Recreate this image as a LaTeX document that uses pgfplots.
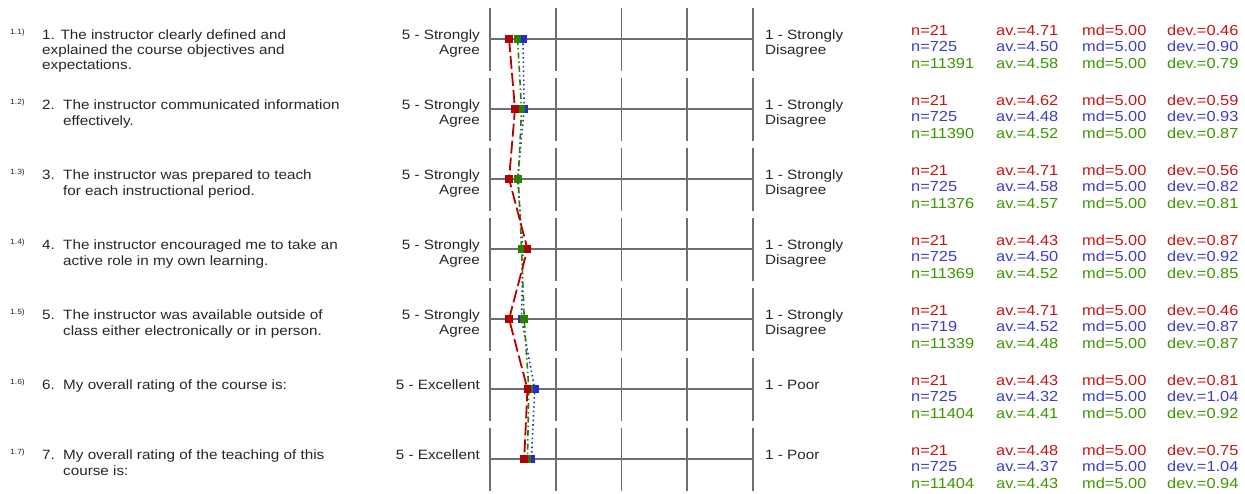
\documentclass[border=0pt]{standalone}
\usepackage{pgfplots}
\pgfplotsset{compat=1.18}
\usepackage{fontspec}
\setmainfont[FakeStretch=1.13]{Liberation Sans}
\definecolor{tred}{RGB}{200,20,20}
\definecolor{tblue}{RGB}{60,60,200}
\definecolor{tgreen}{RGB}{60,150,0}
\definecolor{lred}{RGB}{180,0,0}
\definecolor{lblue}{RGB}{40,40,210}
\definecolor{lgreen}{RGB}{40,130,0}
\definecolor{gridc}{RGB}{110,110,110}
\newcommand{\qf}{\fontsize{13.5bp}{15bp}\selectfont}
\newcommand{\stf}{\fontsize{14.5bp}{16bp}\selectfont}
\newcommand{\tf}{\fontsize{7.5bp}{8bp}\selectfont}
\pgfplotstableread{
row av
1 4.71
2 4.62
3 4.71
4 4.43
5 4.71
6 4.43
7 4.48
}\redtab
\pgfplotstableread{
row av
1 4.50
2 4.48
3 4.58
4 4.50
5 4.52
6 4.32
7 4.37
}\bluetab
\pgfplotstableread{
row av
1 4.58
2 4.52
3 4.57
4 4.52
5 4.48
6 4.41
7 4.43
}\greentab
\begin{document}
\begin{tikzpicture}
\useasboundingbox (0bp,0bp) rectangle (1245bp,-494bp);
\begin{axis}[
  scale only axis, width=263bp, height=420bp,
  at={(490bp,-39bp)}, anchor=north west,
  xmin=1, xmax=5, x dir=reverse,
  ymin=1, ymax=7, y dir=reverse,
  hide axis, clip=false,
]
\foreach \r in {1,...,7}{
  \edef\tmp{\noexpand\draw[gridc, line width=1.5bp] (axis cs:5,\r) -- (axis cs:1,\r);}\tmp
  \foreach \x in {1,...,5}{
    \edef\tmp{\noexpand\draw[gridc, line width=1.6bp] (axis cs:\x,\r-0.45) -- (axis cs:\x,\r+0.45);}\tmp
  }
}
\addplot[lblue, line width=1.6bp, dash pattern=on 1.5bp off 3bp, mark=square*, mark size=3bp, mark options={solid}] table[x=av,y=row] {\bluetab};
\addplot[lgreen, line width=1.6bp, dash pattern=on 6bp off 3bp on 1.5bp off 3bp, mark=square*, mark size=3bp, mark options={solid}] table[x=av,y=row] {\greentab};
\addplot[lred, line width=1.8bp, dash pattern=on 13bp off 4bp, mark=square*, mark size=3bp, mark options={solid}] table[x=av,y=row] {\redtab};
\end{axis}
\begin{scope}[x=1bp,y=-1bp, every node/.style={inner sep=0pt, text=black!85}]
% small labels and questions
\foreach \i/\yy in {1/39,2/109,3/179,4/249,5/319,6/389,7/459}{
  \node[anchor=base west, font=\tf] at (10,\yy-5) {1.\i)};
}
\node[anchor=base west, font=\qf] at (42,39) {1. The instructor clearly defined and};
\node[anchor=base west, font=\qf] at (42,54) {explained the course objectives and};
\node[anchor=base west, font=\qf] at (42,69) {expectations.};
\node[anchor=base west, font=\qf] at (42,109) {2.};
\node[anchor=base west, font=\qf] at (63,109) {The instructor communicated information};
\node[anchor=base west, font=\qf] at (63,125) {effectively.};
\node[anchor=base west, font=\qf] at (42,179) {3.};
\node[anchor=base west, font=\qf] at (63,179) {The instructor was prepared to teach};
\node[anchor=base west, font=\qf] at (63,195) {for each instructional period.};
\node[anchor=base west, font=\qf] at (42,249) {4.};
\node[anchor=base west, font=\qf] at (63,249) {The instructor encouraged me to take an};
\node[anchor=base west, font=\qf] at (63,265) {active role in my own learning.};
\node[anchor=base west, font=\qf] at (42,319) {5.};
\node[anchor=base west, font=\qf] at (63,319) {The instructor was available outside of};
\node[anchor=base west, font=\qf] at (63,335) {class either electronically or in person.};
\node[anchor=base west, font=\qf] at (42,389) {6.};
\node[anchor=base west, font=\qf] at (63,389) {My overall rating of the course is:};
\node[anchor=base west, font=\qf] at (42,459) {7.};
\node[anchor=base west, font=\qf] at (63,459) {My overall rating of the teaching of this};
\node[anchor=base west, font=\qf] at (63,475) {course is:};
% scale anchors
\foreach \yy in {39,109,179,249,319}{
  \node[anchor=base east, font=\qf] at (480,\yy) {5 - Strongly};
  \node[anchor=base east, font=\qf] at (480,\yy+15) {Agree};
  \node[anchor=base west, font=\qf] at (765,\yy) {1 - Strongly};
  \node[anchor=base west, font=\qf] at (765,\yy+15) {Disagree};
}
\foreach \yy in {389,459}{
  \node[anchor=base east, font=\qf] at (480,\yy) {5 - Excellent};
  \node[anchor=base west, font=\qf] at (765,\yy) {1 - Poor};
}
% stats
\foreach \yy/\na/\aa/\ma/\da/\nb/\ab/\mb/\db/\nc/\ac/\mc/\dc in {
  39/21/4.71/5.00/0.46/725/4.50/5.00/0.90/11391/4.58/5.00/0.79,
  109/21/4.62/5.00/0.59/725/4.48/5.00/0.93/11390/4.52/5.00/0.87,
  179/21/4.71/5.00/0.56/725/4.58/5.00/0.82/11376/4.57/5.00/0.81,
  249/21/4.43/5.00/0.87/725/4.50/5.00/0.92/11369/4.52/5.00/0.85,
  319/21/4.71/5.00/0.46/719/4.52/5.00/0.87/11339/4.48/5.00/0.87,
  389/21/4.43/5.00/0.81/725/4.32/5.00/1.04/11404/4.41/5.00/0.92,
  459/21/4.48/5.00/0.75/725/4.37/5.00/1.04/11404/4.43/5.00/0.94}{
  \node[anchor=base west, font=\stf, text=tred] at (911,\yy-4) {n=\na};
  \node[anchor=base west, font=\stf, text=tred] at (996,\yy-4) {av.=\aa};
  \node[anchor=base west, font=\stf, text=tred] at (1082,\yy-4) {md=\ma};
  \node[anchor=base west, font=\stf, text=tred] at (1167,\yy-4) {dev.=\da};
  \node[anchor=base west, font=\stf, text=tblue] at (911,\yy+12.5) {n=\nb};
  \node[anchor=base west, font=\stf, text=tblue] at (996,\yy+12.5) {av.=\ab};
  \node[anchor=base west, font=\stf, text=tblue] at (1082,\yy+12.5) {md=\mb};
  \node[anchor=base west, font=\stf, text=tblue] at (1167,\yy+12.5) {dev.=\db};
  \node[anchor=base west, font=\stf, text=tgreen] at (911,\yy+29) {n=\nc};
  \node[anchor=base west, font=\stf, text=tgreen] at (996,\yy+29) {av.=\ac};
  \node[anchor=base west, font=\stf, text=tgreen] at (1082,\yy+29) {md=\mc};
  \node[anchor=base west, font=\stf, text=tgreen] at (1167,\yy+29) {dev.=\dc};
}
\end{scope}
\end{tikzpicture}
\end{document}
